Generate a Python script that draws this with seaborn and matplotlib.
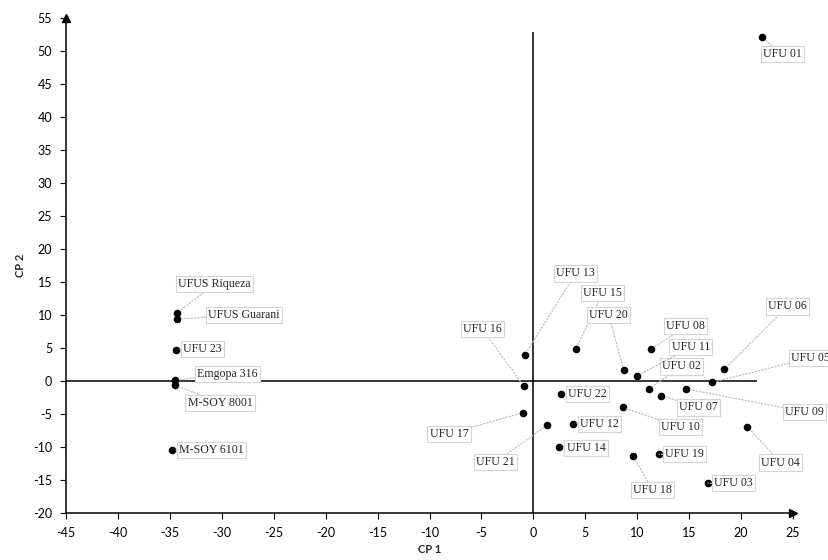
import numpy as np
import pandas as pd
import seaborn as sns
import matplotlib.pyplot as plt

# genotype scores on the first two principal components
names = ['UFU 01', 'UFU 02', 'UFU 03', 'UFU 04', 'UFU 05', 'UFU 06', 'UFU 07',
         'UFU 08', 'UFU 09', 'UFU 10', 'UFU 11', 'UFU 12', 'UFU 13', 'UFU 14',
         'UFU 15', 'UFU 16', 'UFU 17', 'UFU 18', 'UFU 19', 'UFU 20', 'UFU 21',
         'UFU 22', 'UFU 23', 'UFUS Riqueza', 'UFUS Guarani', 'Emgopa 316',
         'M-SOY 8001', 'M-SOY 6101']
cp1 = [22.0, 11.1, 16.8, 20.6, 17.2, 18.4, 12.3, 11.3, 14.7, 8.6, 10.0, 3.8, -0.8, 2.5,
       4.1, -0.9, -1.0, 9.6, 12.1, 8.7, 1.3, 2.7, -34.4, -34.3, -34.3, -34.5, -34.5, -34.8]
cp2 = [52.1, -1.2, -15.5, -6.9, -0.2, 1.8, -2.2, 4.8, -1.2, -4.0, 0.8, -6.5, 4.0, -10.0,
       4.9, -0.8, -4.8, -11.3, -11.1, 1.6, -6.7, -2.0, 4.7, 10.3, 9.4, 0.1, -0.6, -10.45]

# where each label box sits (data units, left edge / vertical centre)
label_x = [22.1, 12.4, 17.4, 21.9, 24.85, 22.6, 14.0, 12.8, 24.2, 12.3, 13.3, 4.5, 2.2, 3.2,
           4.8, -6.8, -10.0, 9.6, 12.7, 5.4, -5.5, 3.35, -33.7, -34.2, -31.3, -32.4, -33.3, -34.1]
label_y = [49.5, 2.2, -15.5, -12.35, 3.5, 11.3, -4.0, 8.3, -4.65, -7.0, 5.1, -6.5, 16.3, -10.1,
           13.3, 7.9, -8.0, -16.5, -11.1, 10.0, -12.3, -2.0, 4.8, 14.7, 10.0, 1.1, -3.3, -10.45]

x_ticks = list(range(-45, 26, 5))
y_ticks = list(range(-20, 56, 5))

df = pd.DataFrame({'name': names, 'CP 1': cp1, 'CP 2': cp2})

sns.set_style("white")
plt.rcParams['font.family'] = ['Lato', 'DejaVu Sans']
plt.rcParams['axes.unicode_minus'] = False

fig = plt.figure(figsize=(8.29, 5.6), dpi=100)
ax = fig.add_axes([0.0796, 0.0839, 0.877, 0.884])

# reference lines through the origin
ax.hlines(0, -45, 21.5, color='black', lw=1.1, zorder=1)
ax.vlines(0, -20, 52.9, color='black', lw=1.1, zorder=1)

sns.scatterplot(data=df, x='CP 1', y='CP 2', color='black', s=30,
                edgecolor='black', linewidth=0, ax=ax, zorder=3)

for name, x, y, lx, ly in zip(names, cp1, cp2, label_x, label_y):
    ax.annotate(name, xy=(x, y), xytext=(lx, ly), textcoords='data',
                ha='left', va='center', fontsize=8.6, family='Liberation Serif',
                bbox=dict(boxstyle='square,pad=0.18', fc='white', ec='#d4d4d4', lw=0.8),
                arrowprops=dict(arrowstyle='-', color='#bdbdbd', ls=':', lw=0.9,
                                shrinkA=0, shrinkB=3),
                annotation_clip=False, zorder=4)

ax.set_xlim(-45, 25)
ax.set_ylim(-20, 55)
ax.set_xticks(x_ticks)
ax.set_yticks(y_ticks)
ax.tick_params(axis='both', direction='out', length=4, width=0.8, labelsize=9,
               colors='black', left=True, bottom=True, pad=6)

sns.despine(ax=ax)
for side in ['left', 'bottom']:
    ax.spines[side].set_color('black')
    ax.spines[side].set_linewidth(1.1)

# arrow heads on the axes
ax.plot(0, 1, marker='^', color='black', ms=6, transform=ax.transAxes, clip_on=False)
ax.plot(1, 0, marker='>', color='black', ms=6, transform=ax.transAxes, clip_on=False)

ax.set_xlabel('CP 1', fontsize=8, fontweight='bold', labelpad=4)
ax.set_ylabel('CP 2', fontsize=8, fontweight='bold', labelpad=5)

fig.savefig('out.png', dpi=100)
